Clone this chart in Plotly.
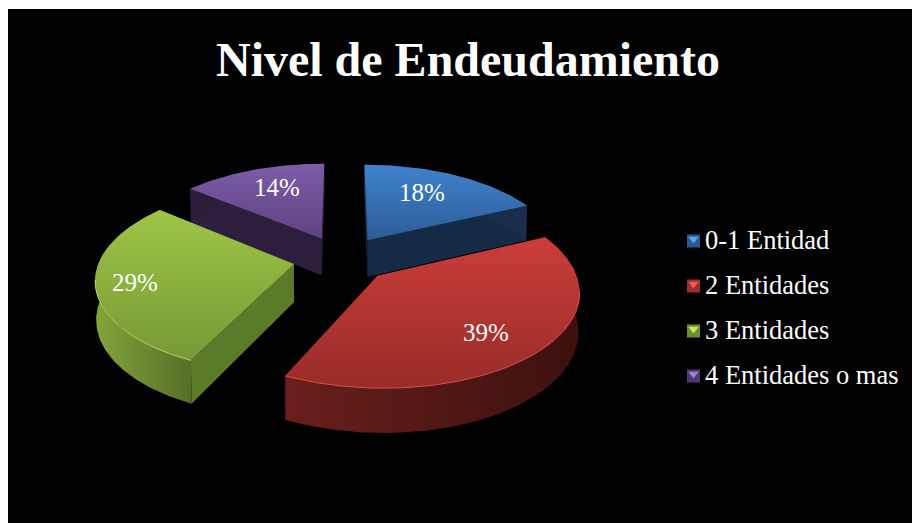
"""3D-style exploded pie: Nivel de Endeudamiento."""

import math

import plotly.graph_objects as go

categories = ["0-1 Entidad", "2 Entidades", "3 Entidades", "4 Entidades o mas"]
shares = [18, 39, 29, 14]

top_colors = [("#3f82cc", "#2d5d98"), ("#cb3d3a", "#982c29"), ("#9fc546", "#789836"), ("#7d5ca9", "#5e437f")]
curve_colors = [("#14273f", "#182e4c"), ("#6a1f1b", "#3c110f"), ("#84a43a", "#566f28"), ("#2b1d3b", "#32223f")]
side_colors = ["#152a45", "#5a1b18", "#5d7a2b", "#2c1e3c"]
rim_colors = ["#4a8ad2", "#d65350", "#b2d660", "#8a69b6"]

# projection of the tilted pie, in page pixels
CX, CY = 342, 259
RADIUS, EXPLODE, HEIGHT = 194, 49, 43
SIN_TILT, COS_TILT, CAMERA = 0.47, 0.883, 1200


def project(x, y, z=0.0):
    # depth of the wall barely shrinks it, so z only counts for a quarter here
    scale = CAMERA / (CAMERA + y * COS_TILT - 0.25 * z * SIN_TILT)
    return CX + x * scale, CY - (y * SIN_TILT + z * COS_TILT) * scale


def slice_points(start, stop):
    """Apex and arc of one slice in pie coordinates, angles clockwise from 12."""
    mid = math.radians((start + stop) / 2)
    ox, oy = EXPLODE * math.sin(mid), EXPLODE * math.cos(mid)
    steps = max(int(stop - start), 2)
    arc = []
    for i in range(steps + 1):
        a = math.radians(start + (stop - start) * i / steps)
        arc.append((ox + RADIUS * math.sin(a), oy + RADIUS * math.cos(a), a))
    return (ox, oy), arc


def polygon(points3d):
    xy = [project(*p) for p in points3d]
    xs = [p[0] for p in xy] + [xy[0][0]]
    ys = [p[1] for p in xy] + [xy[0][1]]
    return xs, ys


def face(xs, ys, colors, kind):
    return go.Scatter(
        x=xs, y=ys, mode="lines", fill="toself", line=dict(width=0),
        fillgradient=dict(type=kind, colorscale=[[0, colors[0]], [1, colors[1]]]),
        hoverinfo="skip", showlegend=False,
    )


fig = go.Figure()

total = sum(shares)
angles = []
running = 0
for value in shares:
    angles.append((running * 360 / total, (running + value) * 360 / total))
    running += value

# painter's order: back slices first
for idx in [3, 0, 2, 1]:
    start, stop = angles[idx]
    apex, arc = slice_points(start, stop)
    for edge in (arc[0], arc[-1]):
        xs, ys = polygon([(*apex, 0), (edge[0], edge[1], 0), (edge[0], edge[1], -HEIGHT), (*apex, -HEIGHT)])
        fig.add_trace(face(xs, ys, (side_colors[idx], side_colors[idx]), "horizontal"))
    xs, ys = polygon([(p[0], p[1], 0) for p in arc] + [(p[0], p[1], -HEIGHT) for p in reversed(arc)])
    fig.add_trace(face(xs, ys, curve_colors[idx], "horizontal"))
    xs, ys = polygon([(*apex, 0)] + [(p[0], p[1], 0) for p in arc])
    fig.add_trace(face(xs, ys, (top_colors[idx][1], top_colors[idx][0]), "vertical"))
    # only the edge facing the viewer catches the light
    rim = [project(p[0], p[1], 0) for p in arc if math.cos(p[2]) < -0.15]
    if rim:
        fig.add_trace(go.Scatter(
            x=[p[0] for p in rim], y=[p[1] for p in rim], mode="lines",
            line=dict(color=rim_colors[idx], width=1), hoverinfo="skip", showlegend=False,
        ))

# percentage labels
fig.add_trace(go.Scatter(
    x=[422, 486, 135, 277], y=[195, 335, 285, 190], mode="text",
    text=[f"{v}%" for v in shares],
    textfont=dict(family="Liberation Serif", size=25, color="white"),
    hoverinfo="skip", showlegend=False,
))

# legend drawn by hand so swatches and text sit tight together
legend_y = [241, 286, 331, 376]
swatch_dark = ["#2a5890", "#9a2f2c", "#6f8d33", "#4f3a70"]
swatch_light = ["#5aa5ee", "#ef5a58", "#c4e65a", "#a27fd6"]
fig.add_trace(go.Scatter(
    x=[693.5] * 4, y=legend_y, mode="markers",
    marker=dict(symbol="square", size=13, color=swatch_dark),
    hoverinfo="skip", showlegend=False,
))
fig.add_trace(go.Scatter(
    x=[693.5] * 4, y=[v - 2 for v in legend_y], mode="markers",
    marker=dict(symbol="triangle-down", size=9, color=swatch_light),
    hoverinfo="skip", showlegend=False,
))
fig.add_trace(go.Scatter(
    x=[705] * 4, y=[v + 1 for v in legend_y], mode="text", text=categories, textposition="middle right",
    textfont=dict(family="Liberation Serif", size=26.5, color="white"),
    hoverinfo="skip", showlegend=False,
))

fig.update_layout(
    width=904, height=514,
    margin=dict(l=0, r=0, t=0, b=0),
    paper_bgcolor="black", plot_bgcolor="black",
    showlegend=False,
    title=dict(
        text="<b>Nivel de Endeudamiento</b>",
        font=dict(family="Liberation Serif", size=48, color="white"),
        x=(468 - 8) / 904, xanchor="center", y=1 - (59 - 9) / 514, yanchor="middle",
    ),
    xaxis=dict(range=[8, 912], visible=False),
    yaxis=dict(range=[523, 9], visible=False),
)

# the white strip of the page sits only on the left and on top
fig.write_html(
    "out.html",
    post_script="document.body.style.margin='9px 0 0 8px';document.body.style.overflow='hidden';",
)
